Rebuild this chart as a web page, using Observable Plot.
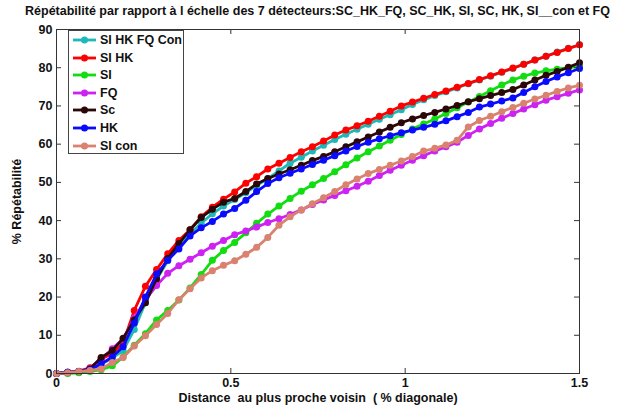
<!DOCTYPE html>
<html><head><meta charset="utf-8">
<script src="https://cdn.jsdelivr.net/npm/d3@7"></script>
<script src="https://cdn.jsdelivr.net/npm/@observablehq/plot@0.6"></script>
<style>
body{margin:0;background:#fff;font-family:"Liberation Sans",Arial,sans-serif;}
#wrap{position:relative;width:623px;height:405px;}
#title{position:absolute;left:0;top:4px;width:635px;text-align:center;font-weight:bold;font-size:12.5px;color:#111;white-space:nowrap;}
#chart{position:absolute;left:0;top:22px;}
#legend{position:absolute;left:68px;top:30px;width:116px;height:124px;border:1px solid #444;background:#fff;box-sizing:border-box;}
.item{position:absolute;left:0;height:16px;display:flex;align-items:center;font-weight:bold;font-size:12.5px;color:#111;}
</style></head><body>
<div id="wrap">
<div id="title">Répétabilité par rapport à l échelle des 7 détecteurs:SC_HK_FQ, SC_HK, SI, SC, HK, SI__con et FQ</div>
<div id="chart"></div>
<div id="legend"></div>
</div>
<script>
const xs = [0,0.032,0.064,0.096,0.128,0.160,0.191,0.223,0.255,0.287,0.319,0.351,0.383,0.415,0.447,0.479,0.511,0.543,0.574,0.606,0.638,0.670,0.702,0.734,0.766,0.798,0.830,0.862,0.894,0.926,0.957,0.989,1.021,1.053,1.085,1.117,1.149,1.181,1.213,1.245,1.277,1.309,1.340,1.372,1.404,1.436,1.468,1.5];

const siHkFqCon = [0,0.2,0.5,1,2.5,4,6,11.5,18.5,24.5,29.5,33.3,36.5,39.3,41.8,43.8,45.5,47.3,49.2,51,53,55,56.6,58.2,59.7,61.2,62.6,63.9,65.2,66.5,67.7,69,70.4,71.6,72.7,73.7,74.7,75.8,76.8,77.8,78.8,79.8,80.9,82,83,84.1,85.1,86];
const siHk = [0,0.3,0.6,1.5,3.8,5.2,8,16.5,22.8,27.2,31.3,34.8,37.6,41,43.5,45.6,47.5,49.8,51.5,53.5,55,56.5,58,59.3,60.8,62.4,63.7,64.8,66,67.3,68.6,70,71,72,73,73.9,74.9,75.9,76.9,77.9,78.9,79.9,80.9,82,83,84,85,86];
const si = [0,0,0.2,0.5,1,2,4.3,7.4,10.4,14,16.5,19.2,22.4,25.9,29.6,32.2,34.3,36.8,39.3,41.7,43.8,45.8,47.7,49.4,51,52.8,54.6,56.4,58,59.5,61,62.5,64,65.3,66.6,68,69.5,71,72.5,74,75.5,76.8,77.8,78.6,79.2,79.6,80,80.3];
const fq = [0,0.2,0.5,1.3,3.7,6.5,9,14.5,19.3,23,26.2,28.2,29.9,31.6,33.3,34.8,36.3,37.3,38.3,39.5,40.5,41.6,42.8,44.2,45.4,46.6,47.8,49,50.3,51.8,53.2,54.5,55.8,57,58.2,59.3,60.5,62.3,64,65.4,66.8,68,69.2,70.3,71.5,72.4,73.3,74.2];
const sc = [0,0.3,0.5,1.2,4.2,6,9.2,14,18.5,24.8,30.1,34,37.6,40.8,43,44.8,45.8,47.6,49.6,51,52.2,53.3,54.5,55.7,56.8,58,59.3,60.6,61.9,63.2,64.4,65.6,66.6,67.5,68.3,69.2,70.1,71.1,71.9,72.7,73.5,74.3,75.5,76.8,78,79,80.1,81.3];
const hk = [0,0.3,0.5,1,2.5,4.3,7,13.2,20,26,29.6,32.6,36,38.1,39.8,41.7,43.2,45.3,47.6,49.7,51.2,52.4,53.5,54.7,55.8,57,58.2,59.4,60.5,61.4,62.2,63,63.7,64.4,65.2,66.1,67.2,68.3,69.7,70.5,71.3,72.1,73.5,75,76.4,77.6,78.7,79.8];
const siCon = [0,0.2,0.5,0.8,1.2,2.9,4.2,7.2,9.9,12.8,15.7,19.3,22.2,25,26.9,28.3,29.5,31.2,33,35.6,38.8,41,42.8,44.4,46,47.6,49.4,50.9,52.3,53.4,54.5,55.6,56.8,58.2,58.9,59.8,61,64.5,66.2,67.3,68.5,69.6,70.7,71.8,72.8,73.8,74.7,75.4];

const seriesNames = ["SI HK FQ Con","SI HK","SI","FQ","Sc","HK","SI con"];
const seriesValues = [siHkFqCon, siHk, si, fq, sc, hk, siCon];
const seriesColors = ["#1fb8b8","#ff0000","#11dd11","#cc22f2","#2a0808","#0a0aff","#d9826f"];
const xTicks = [0,0.5,1,1.5];
const yTicks = [0,10,20,30,40,50,60,70,80,90];

const rows = [];
seriesNames.forEach((name,k)=>{
  seriesValues[k].forEach((v,i)=>rows.push({name, x: xs[i], y: v}));
});

const font = "bold 12.5px 'Liberation Sans', Arial, sans-serif";
const lineMarks = [];
seriesNames.forEach((name,k)=>{
  const d = rows.filter(r=>r.name===name);
  lineMarks.push(Plot.line(d,{x:"x",y:"y",stroke:seriesColors[k],strokeWidth:2.8}));
  lineMarks.push(Plot.dot(d,{x:"x",y:"y",fill:seriesColors[k],r:3.5,stroke:"none"}));
});

const chart = Plot.plot({
  width:623, height:383,
  marginLeft:56, marginRight:44, marginTop:7, marginBottom:32,
  style:{font, color:"#111", background:"transparent"},
  x:{domain:[0,1.5]},
  y:{domain:[0,90]},
  marks:[
    ...lineMarks,
    Plot.frame({stroke:"#333", strokeWidth:1}),
    Plot.tickX(xTicks,{x:d=>d, insetTop:339, stroke:"#333"}),
    Plot.tickX(xTicks,{x:d=>d, insetBottom:339, stroke:"#333"}),
    Plot.tickY(yTicks,{y:d=>d, insetRight:518, stroke:"#333"}),
    Plot.tickY(yTicks,{y:d=>d, insetLeft:518, stroke:"#333"}),
    Plot.axisX(xTicks,{tickSize:0, tickPadding:5, tickFormat:d=>String(d), fontWeight:"bold", fontSize:12.5,
      label:"Distance  au plus proche voisin  ( % diagonale)", labelAnchor:"center", labelOffset:28, labelArrow:false}),
    Plot.axisY(yTicks,{tickSize:0, tickPadding:4, fontWeight:"bold", fontSize:12.5,
      label:"% Répétabilité", labelAnchor:"center", labelOffset:44, labelArrow:false})
  ]
});
document.getElementById("chart").appendChild(chart);

// legend built from series arrays
const leg = d3.select("#legend");
seriesNames.forEach((name,k)=>{
  const it = leg.append("div").attr("class","item").style("top",(1+k*17.6)+"px");
  const s = it.append("svg").attr("width",30).attr("height",16);
  s.append("line").attr("x1",4).attr("x2",27).attr("y1",8).attr("y2",8).attr("stroke",seriesColors[k]).attr("stroke-width",2.8);
  s.append("circle").attr("cx",15.5).attr("cy",8).attr("r",3.5).attr("fill",seriesColors[k]);
  it.append("span").style("margin-left","1px").text(name);
});
</script>
</body></html>
